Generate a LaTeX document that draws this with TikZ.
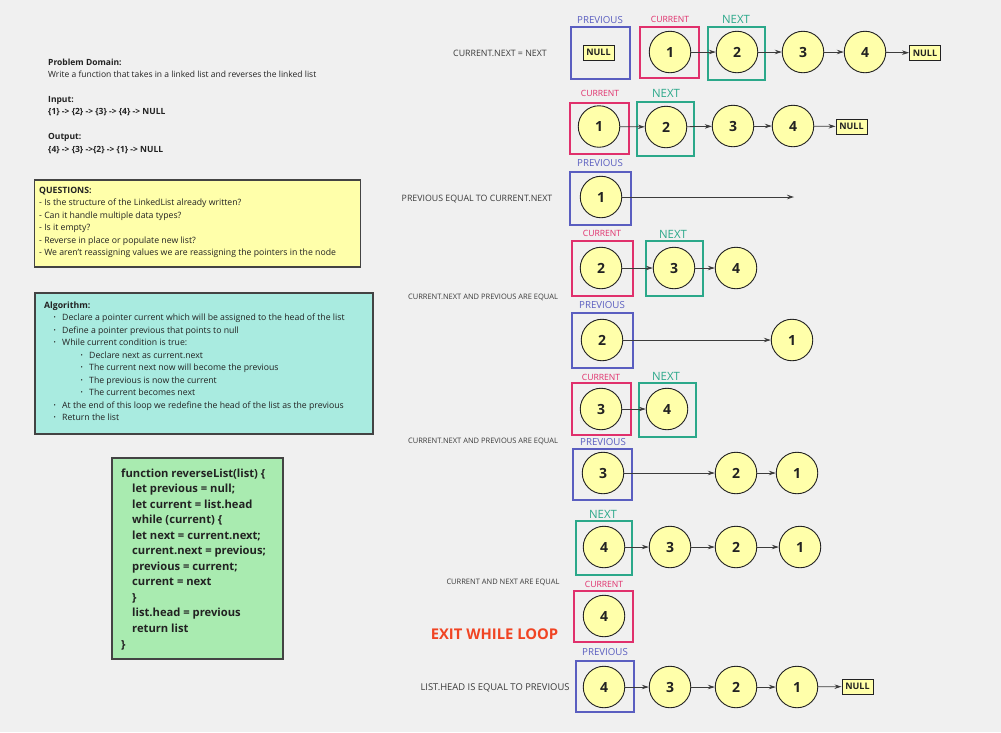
\documentclass[tikz,border=0pt]{standalone}
\usepackage{fontspec}
\setmainfont{Open Sans}
\usetikzlibrary{arrows.meta}

\definecolor{bg}{HTML}{F0F0F0}
\definecolor{nodey}{HTML}{FFFFAA}
\definecolor{prevc}{HTML}{5A5EC0}
\definecolor{curc}{HTML}{E0306C}
\definecolor{nextc}{HTML}{2BA88A}
\definecolor{qfill}{HTML}{FFFFAA}
\definecolor{afill}{HTML}{A9EBE0}
\definecolor{cfill}{HTML}{A9EBB0}
\definecolor{exitc}{HTML}{F04423}
\definecolor{ink}{HTML}{222222}
\definecolor{gtext}{HTML}{3A3A3A}
\definecolor{wire}{HTML}{3C3C3C}

\newcommand\fsz[1]{\fontsize{#1}{#1}\selectfont}

\tikzset{
  lnode/.style={circle, draw=ink, line width=0.9pt, fill=nodey, minimum size=41.5pt,
    inner sep=0pt, text=ink, font=\bfseries\fsz{14}},
  nullbox/.style={draw=ink, line width=1pt, fill=nodey, minimum width=31pt,
    minimum height=15pt, inner sep=0pt, text=ink, font=\bfseries\fsz{9}},
  ptrbox/.style n args={3}{draw=#1, line width=1.2pt, minimum width=#2pt,
    minimum height=#3pt, inner sep=0pt},
  prevlbl/.style={text=prevc, inner sep=0pt, text height=6.9pt, text depth=0pt, font=\fsz{9.7}},
  curlbl/.style={text=curc, inner sep=0pt, text height=6.1pt, text depth=0pt, font=\fsz{8.6}},
  nextlbl/.style={text=nextc, inner sep=0pt, text height=8.1pt, text depth=0pt, font=\fsz{11.4}},
  note/.style={text=gtext, inner sep=0pt, text height=6.3pt, text depth=0pt, font=\fsz{8.8}},
  smallnote/.style={text=gtext, inner sep=0pt, text height=5.3pt, text depth=0pt, font=\fsz{7.5}},
  arr/.style={draw=wire, line width=0.8pt, -{Stealth[length=7pt,width=4.5pt]}},
  ltxt/.style={text=ink, inner sep=0pt, anchor=west, text height=6.1pt, text depth=0pt, font=\fsz{8.5}},
  qtxt/.style={text=ink, inner sep=0pt, anchor=west, text height=6.2pt, text depth=0pt, font=\fsz{8.7}},
  ctxt/.style={text=ink, inner sep=0pt, anchor=west, text height=8pt, text depth=0pt, font=\bfseries\fsz{11.2}},
  panel/.style={draw=ink!85, line width=1.6pt, inner sep=0pt},
}

\begin{document}
\begin{tikzpicture}[x=1pt,y=-1pt]
\fill[bg] (0,0) rectangle (1001,732);
\useasboundingbox (0,0) rectangle (1001,732);

% ---------- problem statement ----------
\node[ltxt, font=\bfseries\fsz{8.5}] (pd) at (48,62) {Problem Domain:};
\node[ltxt] (pdt) at (48,74) {Write a function that takes in a linked list and reverses the linked list};
\node[ltxt, font=\bfseries\fsz{8.5}] (inh) at (48,99) {Input:};
\node[ltxt, font=\bfseries\fsz{8.5}] (inl) at (48,111) {\{1\} -> \{2\} -> \{3\} -> \{4\} -> NULL};
\node[ltxt, font=\bfseries\fsz{8.5}] (outh) at (48,136) {Output:};
\node[ltxt, font=\bfseries\fsz{8.5}] (outl) at (48,149) {\{4\} -> \{3\} ->\{2\} -> \{1\} -> NULL};

% ---------- questions ----------
\node[panel, fill=qfill, minimum width=326pt, minimum height=87pt] (qbox) at (197.5,223.5) {};
\node[qtxt, font=\bfseries\fsz{8.7}] (q0) at (39,190) {QUESTIONS:};
\foreach \t [count=\i] in {%
  - Is the structure of the LinkedList already written?,
  - Can it handle multiple data types?,
  - Is it empty?,
  - Reverse in place or populate new list?,
  - We aren't reassigning values we are reassigning the pointers in the node}
  \node[qtxt] (q\i) at ({39},{190+12.5*\i}) {\t};

% ---------- algorithm ----------
\node[panel, fill=afill, minimum width=338pt, minimum height=141pt] (abox) at (204,363.5) {};
\node[qtxt, font=\bfseries\fsz{8.7}] (a0) at (44,305) {Algorithm:};
\foreach \t/\lvl [count=\i] in {%
  Declare a pointer current which will be assigned to the head of the list/0,
  Define a pointer previous that points to null/0,
  While current condition is true:/0,
  Declare next as current.next/1,
  The current next now will become the previous/1,
  The previous is now the current/1,
  The current becomes next/1,
  At the end of this loop we redefine the head of the list as the previous/0,
  Return the list/0}
{
  \node[qtxt] (a\i) at ({62+27*\lvl},{305+12.5*\i}) {\t};
  \node[qtxt, font=\fsz{6}, text height=3pt] (ab\i) at ({53.5+27*\lvl},{305.5+12.5*\i}) {\textbullet};
}

% ---------- code ----------
\node[panel, fill=cfill, minimum width=171pt, minimum height=201pt] (cbox) at (197.5,558.5) {};
\foreach \t/\ind [count=\i] in {%
  {function reverseList(list) \{}/0,
  {let previous = null;}/1,
  {let current = list.head}/1,
  {while (current) \{}/1,
  {let next = current.next;}/1,
  {current.next = previous;}/1,
  {previous = current;}/1,
  {current = next}/1,
  {\}}/1,
  {list.head = previous}/1,
  {return list}/1,
  {\}}/0}
  \node[ctxt] (c\i) at ({121+11*\ind},{473+15.55*(\i-1)}) {\t};

% ---------- step 1 ----------
\node[note] (t1) at (500,53) {CURRENT.NEXT = NEXT};
\node[ptrbox={prevc}{59}{52}] (b1p) at (600.5,53) {};
\node[ptrbox={curc}{59}{51}] (b1c) at (669.5,52.5) {};
\node[ptrbox={nextc}{57}{53}] (b1n) at (736.5,53.5) {};
\node[prevlbl] (l1p) at (600,20) {PREVIOUS};
\node[curlbl] (l1c) at (670,19.5) {CURRENT};
\node[nextlbl] (l1n) at (736,19) {NEXT};
\node[nullbox] (z1p) at (598.5,52.5) {NULL};
\node[lnode] (s1a) at (670,52) {1};
\node[lnode] (s1b) at (737,52) {2};
\node[lnode] (s1c) at (803,52) {3};
\node[lnode] (s1d) at (865,52) {4};
\node[nullbox] (z1) at (925,53) {NULL};
\draw[arr] (s1a) -- (s1b);
\draw[arr] (s1b) -- (s1c);
\draw[arr] (s1c) -- (s1d);
\draw[arr] (s1d) -- (z1);

% ---------- step 2 ----------
\node[ptrbox={curc}{59}{51}] (b2c) at (599.5,128.5) {};
\node[ptrbox={nextc}{57}{54}] (b2n) at (665.5,129) {};
\node[curlbl] (l2c) at (600,93) {CURRENT};
\node[nextlbl] (l2n) at (666,93) {NEXT};
\node[lnode] (s2a) at (599,126.5) {1};
\node[lnode] (s2b) at (666,127) {2};
\node[lnode] (s2c) at (733,126) {3};
\node[lnode] (s2d) at (793,126) {4};
\node[nullbox] (z2) at (851.5,126.5) {NULL};
\draw[arr] (s2a) -- (s2b);
\draw[arr] (s2b) -- (s2c);
\draw[arr] (s2c) -- (s2d);
\draw[arr] (s2d) -- (z2);

% ---------- step 3 ----------
\node[note] (t3) at (477,198) {PREVIOUS EQUAL TO CURRENT.NEXT};
\node[ptrbox={prevc}{61}{53}] (b3p) at (600.5,198.5) {};
\node[prevlbl] (l3p) at (600,163) {PREVIOUS};
\node[lnode] (s3a) at (601,197) {1};
\coordinate (e3) at (794,197);
\draw[arr] (s3a) -- (e3);

% ---------- step 4 ----------
\node[ptrbox={curc}{61}{55}] (b4c) at (602.5,268.5) {};
\node[ptrbox={nextc}{57}{55}] (b4n) at (674.5,268.5) {};
\node[curlbl] (l4c) at (602,233) {CURRENT};
\node[nextlbl] (l4n) at (673,234) {NEXT};
\node[lnode] (s4b) at (601,268) {2};
\node[lnode] (s4c) at (674,268) {3};
\node[lnode] (s4d) at (736,268) {4};
\draw[arr] (s4b) -- (s4c);
\draw[arr] (s4c) -- (s4d);
\node[smallnote] (t4) at (483,297) {CURRENT.NEXT AND PREVIOUS ARE EQUAL};

% ---------- step 5 ----------
\node[ptrbox={prevc}{61}{55}] (b5p) at (602.5,340.5) {};
\node[prevlbl] (l5p) at (602,305) {PREVIOUS};
\node[lnode] (s5b) at (602,340) {2};
\node[lnode] (s5a) at (792,340) {1};
\draw[arr] (s5b) -- (s5a);

% ---------- step 6 ----------
\node[ptrbox={curc}{59}{52}] (b6c) at (601.5,409) {};
\node[ptrbox={nextc}{57}{54}] (b6n) at (667.5,410) {};
\node[curlbl] (l6c) at (601,377) {CURRENT};
\node[nextlbl] (l6n) at (666,376) {NEXT};
\node[lnode] (s6c) at (601,409) {3};
\node[lnode] (s6d) at (667,409) {4};
\draw[arr] (s6c) -- (s6d);
\node[smallnote] (t6) at (483,441) {CURRENT.NEXT AND PREVIOUS ARE EQUAL};

% ---------- step 7 ----------
\node[ptrbox={prevc}{59}{51}] (b7p) at (602.5,474.5) {};
\node[prevlbl] (l7p) at (603,442) {PREVIOUS};
\node[lnode] (s7c) at (603,473) {3};
\node[lnode] (s7b) at (736,473) {2};
\node[lnode] (s7a) at (797,473) {1};
\draw[arr] (s7c) -- (s7b);
\draw[arr] (s7b) -- (s7a);

% ---------- step 8 ----------
\node[ptrbox={nextc}{56}{54}] (b8n) at (604,548) {};
\node[nextlbl] (l8n) at (603,514) {NEXT};
\node[lnode] (s8d) at (604,547) {4};
\node[lnode] (s8c) at (670,547) {3};
\node[lnode] (s8b) at (736,547) {2};
\node[lnode] (s8a) at (800,547) {1};
\draw[arr] (s8d) -- (s8c);
\draw[arr] (s8c) -- (s8b);
\draw[arr] (s8b) -- (s8a);
\node[smallnote] (t8) at (503,582) {CURRENT AND NEXT ARE EQUAL};

% ---------- step 9 ----------
\node[ptrbox={curc}{59}{51}] (b9c) at (603.5,616.5) {};
\node[curlbl] (l9c) at (604,584) {CURRENT};
\node[lnode] (s9d) at (604,616) {4};
\node[text=exitc, inner sep=0pt, text height=10.5pt, text depth=0pt, font=\bfseries\fsz{14.8}] (exit) at (494.5,634) {EXIT WHILE LOOP};

% ---------- step 10 ----------
\node[note, font=\fsz{9.4}, text height=6.7pt] (t10) at (495,687) {LIST.HEAD IS EQUAL TO PREVIOUS};
\node[ptrbox={prevc}{58}{51}] (b10p) at (605,686.5) {};
\node[prevlbl] (l10p) at (605,652) {PREVIOUS};
\node[lnode] (s10d) at (604,687) {4};
\node[lnode] (s10c) at (670,687) {3};
\node[lnode] (s10b) at (736,687) {2};
\node[lnode] (s10a) at (797,687) {1};
\node[nullbox] (z10) at (857.5,686.5) {NULL};
\draw[arr] (s10d) -- (s10c);
\draw[arr] (s10c) -- (s10b);
\draw[arr] (s10b) -- (s10a);
\draw[arr] (s10a) -- (z10);
\end{tikzpicture}
\end{document}
